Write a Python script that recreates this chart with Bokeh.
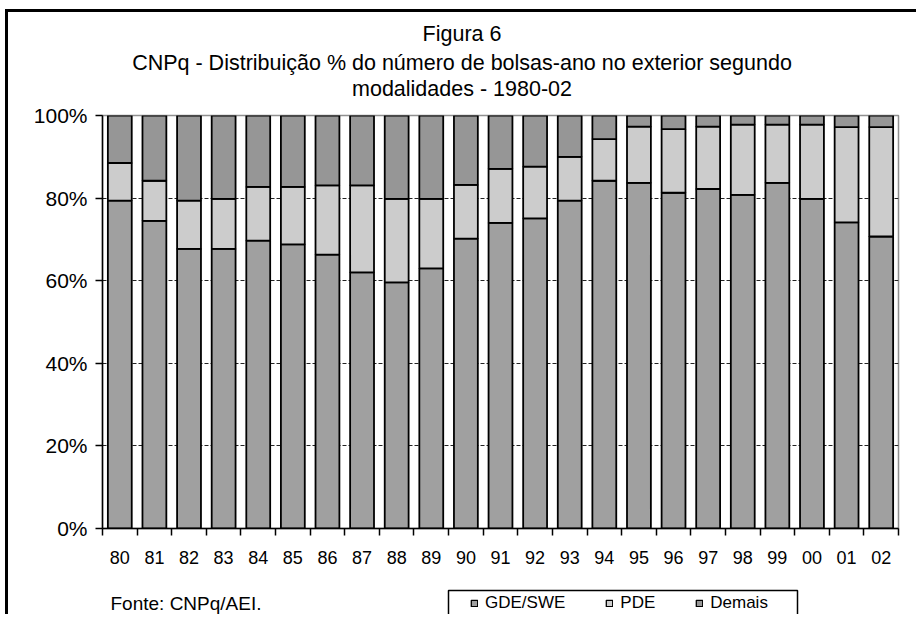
from bokeh.plotting import figure
from bokeh.layouts import column
from bokeh.models import (ColumnDataSource, Range1d, FixedTicker, PrintfTickFormatter,
                          Label, Legend, LegendItem)
from bokeh.embed import file_html
from bokeh.resources import INLINE

# ---- data (percent shares) ----
years = ["80", "81", "82", "83", "84", "85", "86", "87", "88", "89", "90", "91",
         "92", "93", "94", "95", "96", "97", "98", "99", "00", "01", "02"]
gde_swe = [79.4, 74.5, 67.7, 67.7, 69.7, 68.8, 66.3, 62.0, 59.6, 63.0, 70.2, 74.0,
           75.1, 79.4, 84.2, 83.7, 81.3, 82.2, 80.8, 83.7, 79.8, 74.1, 70.7]
pde = [9.1, 9.7, 11.7, 12.1, 13.0, 13.9, 16.8, 21.1, 20.2, 16.8, 13.0, 13.1,
       12.5, 10.6, 10.1, 13.6, 15.4, 15.1, 17.0, 14.1, 18.0, 23.1, 26.5]
demais = [11.5, 15.8, 20.6, 20.2, 17.3, 17.3, 16.9, 16.9, 20.2, 20.2, 16.8, 12.9,
          12.4, 10.0, 5.7, 2.7, 3.3, 2.7, 2.2, 2.2, 2.2, 2.8, 2.8]
series_names = ["GDE/SWE", "PDE", "Demais"]
y_ticks = [0, 20, 40, 60, 80, 100]
grid_ticks = [20, 40, 60, 80]
title_lines = ["Figura 6",
               "CNPq - Distribuição % do número de bolsas-ano no exterior segundo",
               "modalidades - 1980-02"]
source_note = "Fonte: CNPq/AEI."

FONT = "Liberation Sans"
colors = ["#a0a0a0", "#cccccc", "#969696"]
W = 916
H_HEAD, H_MAIN, H_FOOT = 100, 480, 34
FL, FR = 102, 18          # frame left border / right border (px)

xpos = list(range(len(years)))
src = ColumnDataSource(dict(x=xpos, gde=gde_swe, pde=pde, demais=demais))


def blank(h, y0):
    f = figure(width=W, height=h, output_backend="svg", toolbar_location=None,
               x_range=Range1d(FL, W - FR), y_range=Range1d(y0 + h, y0),
               x_axis_type=None, y_axis_type=None,
               min_border_left=FL, min_border_right=FR, min_border_top=0, min_border_bottom=0)
    f.outline_line_color = None
    f.background_fill_color = None
    f.border_fill_color = None
    f.xgrid.visible = False
    f.ygrid.visible = False
    return f


# ---- header with the three title lines ----
p_head = blank(H_HEAD, 0)
for txt, ty in zip(title_lines, [33, 62, 88]):
    p_head.add_layout(Label(x=461.5, y=ty, text=txt, text_align="center",
                            text_baseline="middle", text_font=FONT,
                            text_font_size="21.5px", text_color="black"))

# ---- main chart ----
p = figure(width=W, height=H_MAIN, output_backend="svg", toolbar_location=None,
           x_range=Range1d(-0.5, len(years) - 0.5), y_range=Range1d(0, 100),
           min_border_left=FL, min_border_right=FR, min_border_top=15,
           min_border_bottom=52)
p.background_fill_color = "white"
p.border_fill_color = None
p.outline_line_color = "#909090"
p.outline_line_width = 1.5

renderers = p.vbar_stack(["gde", "pde", "demais"], x="x", width=0.69, source=src,
                         fill_color=colors, line_color="black", line_width=1.8)

p.xgrid.visible = False
p.ygrid.ticker = FixedTicker(ticks=grid_ticks)
p.ygrid.grid_line_color = "#222222"
p.ygrid.grid_line_dash = "4 2"
p.ygrid.grid_line_width = 1

yax = p.yaxis[0]
yax.ticker = FixedTicker(ticks=y_ticks)
yax.formatter = PrintfTickFormatter(format="%d%%")
yax.axis_line_color = "black"
yax.axis_line_width = 1.5
yax.major_tick_out = 7
yax.major_tick_in = 0
yax.major_tick_line_color = "black"
yax.major_tick_line_width = 1.5
yax.minor_tick_line_color = None
yax.major_label_standoff = 8
yax.major_label_text_font = FONT
yax.major_label_text_font_size = "21px"
yax.major_label_text_color = "black"

xax = p.xaxis[0]
xax.ticker = FixedTicker(ticks=xpos, minor_ticks=[i - 0.5 for i in range(len(years) + 1)])
xax.major_label_overrides = {i: y for i, y in zip(xpos, years)}
xax.axis_line_color = "black"
xax.axis_line_width = 1.5
xax.major_tick_out = 0
xax.major_tick_in = 0
xax.minor_tick_out = 7
xax.minor_tick_in = 0
xax.minor_tick_line_color = "black"
xax.minor_tick_line_width = 1.5
xax.major_label_standoff = 15
xax.major_label_text_font = FONT
xax.major_label_text_font_size = "18px"
xax.major_label_text_color = "black"

# ---- footer: source note and legend ----
y0_foot = H_HEAD + H_MAIN
p_foot = blank(H_FOOT, y0_foot)
p_foot.add_layout(Label(x=110, y=603, text=source_note, text_align="left",
                        text_baseline="middle", text_font=FONT,
                        text_font_size="19px", text_color="black"))
# legend frame
p_foot.quad(left=[448], right=[797], top=[590], bottom=[640], fill_color=None,
            line_color="black", line_width=1.5)
# hidden copies of the series, used only to draw the legend swatches
leg_renderers = p_foot.vbar_stack(["gde", "pde", "demais"], x="x", width=0.69, source=src,
                                  fill_color=colors, line_color="black", line_width=1.3,
                                  visible=False)
legend = Legend(items=[LegendItem(label=n, renderers=[r]) for n, r in zip(series_names, leg_renderers)],
                orientation="horizontal", location=(470 - FL, 1.5),
                border_line_color=None, background_fill_alpha=0, padding=0, margin=0,
                spacing=40, label_standoff=7, glyph_width=8, glyph_height=8,
                label_height=17, label_text_font=FONT, label_text_font_size="17px",
                label_text_color="black", inactive_fill_alpha=0)
p_foot.add_layout(legend)

layout = column(p_head, p, p_foot, spacing=0,
                styles={"background": "linear-gradient(#000,#000) 5px 9px / 3px 100% no-repeat, "
                                      "linear-gradient(#000,#000) 5px 9px / 100% 3px no-repeat, #fff"})

open("out.html", "w").write(file_html(layout, INLINE))
